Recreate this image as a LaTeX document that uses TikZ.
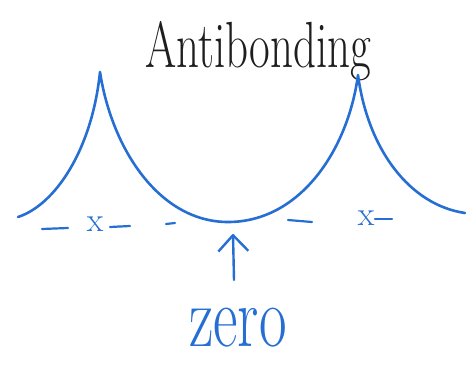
\documentclass[tikz,border=0pt]{standalone}
\usetikzlibrary{arrows.meta}
\definecolor{pen}{RGB}{38,110,212}
\definecolor{ink}{RGB}{30,30,30}
\tikzset{
  band/.style={draw=pen, line width=2.6pt, line cap=round, line join=round},
  dashseg/.style={draw=pen, line width=2.2pt, line cap=round},
  atom/.style={text=pen, inner sep=0pt, font=\fontsize{34}{34}\selectfont},
  pointer/.style={draw=pen, line width=2.4pt, line cap=round, -{Straight Barb[length=16pt,width=30pt,line join=round]}},
}
\begin{document}
\begin{tikzpicture}[x=1pt,y=-1pt]
\useasboundingbox (0,0) rectangle (472,380);
% title
\node[text=ink, anchor=base, inner sep=0pt] (title) at (258,67)
  {\scalebox{1}[1.45]{\fontsize{45}{45}\selectfont Antibonding}};
% band curve
\draw[band] (18,217) .. controls (55,205) and (92,150) .. (100,72)
  .. controls (112,150) and (160,222) .. (228,222)
  .. controls (300,222) and (348,150) .. (358,75)
  .. controls (368,150) and (410,205) .. (465,213);
\coordinate (valley) at (233,226);
% dashed baseline
\draw[dashseg] (42,229) -- (68,228);
\draw[dashseg] (110,227) -- (130,226);
\draw[dashseg] (166,224) -- (175,223);
\draw[dashseg] (288,220) -- (312,222);
\draw[dashseg] (375,219) -- (392,219);
\node[atom] (x1) at (95,224) {x};
\node[atom] (x2) at (366,218) {x};
% zero label and arrow
\node[text=pen, anchor=base, inner sep=0pt] (zero) at (238,346)
  {\scalebox{1}[1.45]{\fontsize{60}{60}\selectfont zero}};
\coordinate (tail) at (234,280);
\draw[pointer] (tail) -- ([yshift=-8pt]valley);
\end{tikzpicture}
\end{document}
